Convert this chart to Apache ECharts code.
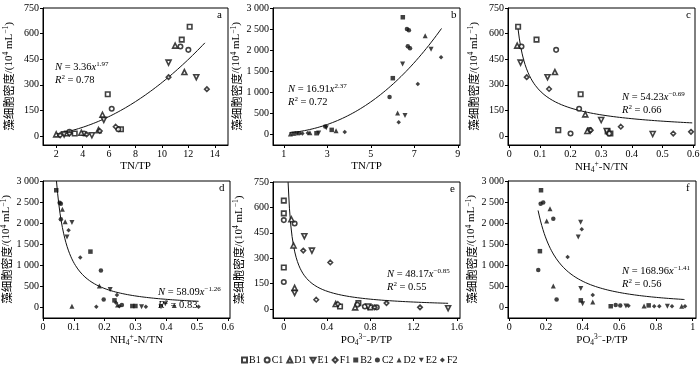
<!DOCTYPE html>
<html><head><meta charset="utf-8">
<script src="https://cdn.jsdelivr.net/npm/echarts@6/dist/echarts.min.js"></script>
<style>html,body{margin:0;padding:0;background:#fff}#c{width:700px;height:366px}</style>
</head><body><div id="c"></div>
<script>
// ---------- data (period 1: panels a, c, e; period 2: panels b, d, f) ----------
const legendNames = ['B1','C1','D1','E1','F1','B2','C2','D2','E2','F2'];
// panel a: TN/TP vs density (period 1)
const aB = [[12.1,640],[11.5,565],[5.9,245],[6.9,40],[3.4,15],[2.8,15]];
const aC = [[11.4,525],[12.0,505],[6.2,160],[6.7,40],[3.0,25],[4.1,15]];
const aD = [[11.0,530],[11.7,375],[5.5,125],[2.0,10],[3.9,20],[5.2,35]];
const aE = [[10.5,430],[12.6,345],[5.6,95],[4.7,5],[2.6,10]];
const aF = [[10.5,345],[13.4,275],[6.5,55],[2.3,5],[3.0,15],[4.3,10],[5.3,30]];
// panel b: TN/TP vs density (period 2)
const bB = [[6.47,2780],[6.01,1330],[1.45,10],[2.5,20],[3.2,100]];
const bC = [[6.66,2500],[6.75,2470],[6.7,2090],[6.8,2040],[5.86,880],[2.9,180],[1.7,20]];
const bD = [[7.5,2340],[6.23,500],[1.3,0],[2.2,30],[3.4,80]];
const bE = [[7.77,2020],[6.46,1670],[6.57,440],[1.6,10],[2.95,150],[2.6,25]];
const bF = [[8.23,1830],[7.16,1190],[6.28,280],[2.1,25],[3.8,50],[1.85,15]];
// panel c: NH4+-N/TN vs density (period 1)
const cB = [[0.029,640],[0.089,565],[0.233,245],[0.16,35],[0.321,28],[0.33,15]];
const cC = [[0.04,525],[0.153,505],[0.228,160],[0.262,35],[0.2,15],[0.326,15]];
const cD = [[0.026,530],[0.149,375],[0.248,127],[0.255,30]];
const cE = [[0.037,430],[0.125,345],[0.3,94],[0.468,12],[0.318,30]];
const cF = [[0.057,345],[0.13,276],[0.364,55],[0.535,15],[0.593,25],[0.266,35]];
// panel d: NH4+-N/TN vs density (period 2)
const dB = [[0.043,2780],[0.154,1320],[0.232,160],[0.29,25],[0.3,25]];
const dC = [[0.054,2480],[0.058,2460],[0.058,2090],[0.188,870],[0.197,180],[0.256,50]];
const dD = [[0.063,2330],[0.072,2030],[0.183,500],[0.094,20],[0.426,40],[0.242,50]];
const dE = [[0.094,2010],[0.078,1670],[0.218,420],[0.32,10],[0.383,10],[0.397,80]];
const dF = [[0.083,1830],[0.121,1180],[0.24,290],[0.173,10],[0.334,10],[0.505,10],[0.248,20],[0.237,100]];
// panel e: PO4(3-)-P/TP vs density (period 1)
const eB = [[0,640],[0,565],[0,245],[0.52,15],[0.69,35],[0.8,10]];
const eC = [[0,525],[0.1,505],[0,160],[0.68,25],[0.75,15],[0.86,10]];
const eD = [[0.07,530],[0.09,375],[0.1,125],[0.66,10],[0.48,30]];
const eE = [[0.19,430],[0.26,345],[0.1,95],[1.52,5],[0.78,15]];
const eF = [[0.18,345],[0.43,275],[0.3,55],[0.5,30],[0.95,35],[1.26,10],[0.84,10]];
// panel f: PO4(3-)-P/TP vs density (period 2)
const fB = [[0.173,2780],[0.167,1330],[0.39,160],[0.553,20],[0.76,40]];
const fC = [[0.171,2460],[0.185,2490],[0.24,2100],[0.158,880],[0.258,180],[0.58,50],[0.605,40]];
const fD = [[0.222,2340],[0.204,2050],[0.24,500],[0.455,120],[0.735,25],[0.94,20]];
const fE = [[0.389,2020],[0.376,1670],[0.39,440],[0.4,80],[0.636,25],[0.862,20]];
const fF = [[0.395,1850],[0.318,1190],[0.455,290],[0.65,30],[0.79,20],[0.818,20],[0.887,20],[0.958,20]];
// fitted power models N = k * x^p, and the x-range each curve spans
const fitA = [3.36, 1.97],   rangeA = [2.0, 13.25];
const fitB = [16.91, 2.37],  rangeB = [1.25, 8.25];
const fitC = [54.23, -0.69], rangeC = [0.028, 0.597];
const fitD = [58.09, -1.26], rangeD = [0.0437, 0.505];
const fitE = [48.17, -0.85], rangeE = [0.0396, 1.52];
const fitF = [168.96, -1.41],rangeF = [0.157, 0.955];
const r2 = ['0.78','0.72','0.66','0.83','0.55','0.56'];
// tick labels
const ticksXa = [2,4,6,8,10,12,14];
const ticksXb = [1,3,5,7,9];
const ticksXcd = [0,0.1,0.2,0.3,0.4,0.5,0.6];
const ticksXe = [0,0.4,0.8,1.2,1.6];
const ticksXf = [0,0.2,0.4,0.6,0.8,1.0];
const ticksY750 = [0,150,300,450,600,750];
const ticksY3000 = [0,500,1000,1500,2000,2500,3000];

// ---------- chart ----------
const SERIF = 'Liberation Serif';
const CJK = 'Noto Sans CJK SC';
const SYM = {B:'rect', C:'circle', D:'triangle', E:'path://M0,0L10,0L5,9Z', F:'diamond'};
const nameR = {
  t:{fontFamily:SERIF,fontSize:11,color:'#000',lineHeight:14},
  c:{fontFamily:CJK,fontSize:11.5,color:'#000',lineHeight:14},
  sup:{fontFamily:SERIF,fontSize:7.5,color:'#000',verticalAlign:'top',lineHeight:14,padding:[0,0,5,0]},
  sub:{fontFamily:SERIF,fontSize:7.5,color:'#000',verticalAlign:'bottom',lineHeight:14,padding:[4,0,0,0]}
};
const eqR = {
  t:{fontFamily:SERIF,fontSize:10.5,color:'#000',lineHeight:13},
  i:{fontFamily:SERIF,fontSize:10.5,fontStyle:'italic',color:'#000',lineHeight:13},
  sup:{fontFamily:SERIF,fontSize:7,color:'#000',verticalAlign:'top',lineHeight:13,padding:[0,0,4,0]}
};
const yName = '{c|藻细胞密度}{t|/(10}{sup|4}{t| mL}{sup|−1}{t|)}';
const panels = [
  {g:{left:43,top:8,width:185,height:137}, x:[1,15], xt:ticksXa, y:[-52,750], yt:ticksY750, xn:'{t|TN/TP}', p:'1', d:{B:aB,C:aC,D:aD,E:aE,F:aF}, fit:fitA, rg:rangeA, eq:[55,61], L:[217,10], letter:'a'},
  {g:{left:273,top:8,width:187,height:137}, x:[0.5,9.1], xt:ticksXb, y:[-260,3000], yt:ticksY3000, xn:'{t|TN/TP}', p:'2', d:{B:bB,C:bC,D:bD,E:bE,F:bF}, fit:fitB, rg:rangeB, eq:[288,83], L:[451,10], letter:'b'},
  {g:{left:508,top:8,width:187,height:137}, x:[-0.004,0.606], xt:ticksXcd, y:[-52,750], yt:ticksY750, xn:'{t|NH}{sub|4}{sup|+}{t|-N/TN}', p:'1', d:{B:cB,C:cC,D:cD,E:cE,F:cF}, fit:fitC, rg:rangeC, eq:[622,91], L:[686,10], letter:'c'},
  {g:{left:43,top:181,width:187,height:137}, x:[0,0.607], xt:ticksXcd, y:[-260,3000], yt:ticksY3000, xn:'{t|NH}{sub|4}{sup|+}{t|-N/TN}', p:'2', d:{B:dB,C:dC,D:dD,E:dE,F:dF}, fit:fitD, rg:rangeD, eq:[158,286], L:[219,183], letter:'d'},
  {g:{left:273,top:182,width:187,height:136}, x:[-0.1,1.63], xt:ticksXe, y:[-53,750], yt:ticksY750, xn:'{t|PO}{sub|4}{sup|3−}{t|-P/TP}', p:'1', d:{B:eB,C:eC,D:eD,E:eE,F:eF}, fit:fitE, rg:rangeE, eq:[387,268], L:[450,184], letter:'e'},
  {g:{left:508,top:181,width:188,height:137}, x:[-0.007,1.018], xt:ticksXf, y:[-260,3000], yt:ticksY3000, xn:'{t|PO}{sub|4}{sup|3−}{t|-P/TP}', p:'2', d:{B:fB,C:fC,D:fD,E:fE,F:fF}, fit:fitF, rg:rangeF, eq:[622,265], L:[686,183], letter:'f'}
];
const fmtY = v => v >= 1000 ? String(v).replace(/(\d)(\d{3})$/, '$1 $2') : String(v);
const fmtNum = v => String(v);
const grid=[], xAxis=[], yAxis=[], series=[], graphic=[];
panels.forEach((P, k) => {
  grid.push(Object.assign({show:true, borderColor:'#000', borderWidth:1, outerBoundsMode:'none', containLabel:false}, P.g));
  xAxis.push({type:'value', gridIndex:k, min:P.x[0], max:P.x[1],
    name:P.xn, nameLocation:'middle', nameGap:14,
    nameTextStyle:{rich:nameR},
    axisLine:{show:true,onZero:false,lineStyle:{color:'#000',width:1}},
    axisTick:{show:true,inside:false,length:3,lineStyle:{color:'#000'},customValues:P.xt},
    axisLabel:{color:'#000',fontFamily:SERIF,fontSize:10,margin:4,customValues:P.xt,formatter:fmtNum},
    splitLine:{show:false}});
  yAxis.push({type:'value', gridIndex:k, min:P.y[0], max:P.y[1],
    name:yName, nameLocation:'middle', nameGap:27, nameRotate:90,
    nameTextStyle:{rich:nameR},
    axisLine:{show:true,onZero:false,lineStyle:{color:'#000',width:1}},
    axisTick:{show:true,inside:false,length:3,lineStyle:{color:'#000'},customValues:P.yt},
    axisLabel:{color:'#000',fontFamily:SERIF,fontSize:10,margin:4,customValues:P.yt,formatter:fmtY},
    splitLine:{show:false}});
  ['B','C','D','E','F'].forEach(s => {
    const hollow = P.p === '1';
    series.push({type:'scatter', name:s+P.p, xAxisIndex:k, yAxisIndex:k, data:P.d[s],
      symbol:SYM[s], symbolSize: s==='D'||s==='E' ? 5 : 4.5, z:3,
      itemStyle: hollow ? {color:'#fff', borderColor:'#111', borderWidth:1.6} : {color:'#111', borderWidth:0},
      emphasis:{disabled:true}});
  });
  // fitted curve sampled along the equation printed on the panel
  const pts=[]; const n=120;
  for (let i=0;i<=n;i++){ const xv=P.rg[0]+(P.rg[1]-P.rg[0])*i/n; pts.push([xv, P.fit[0]*Math.pow(xv,P.fit[1])]); }
  series.push({type:'line', xAxisIndex:k, yAxisIndex:k, data:pts, showSymbol:false, symbol:'none',
    lineStyle:{color:'#111',width:1}, clip:true, silent:true, z:2});
  const expo = (P.fit[1] < 0 ? '−' : '') + Math.abs(P.fit[1]).toFixed(2);
  graphic.push({type:'text', left:P.eq[0], top:P.eq[1], z:10, style:{
    text:'{i|N}{t| = '+P.fit[0].toFixed(2)+'}{i|x}{sup|'+expo+'}\n{i|R}{sup|2}{t| = '+r2[k]+'}', rich:eqR}});
  graphic.push({type:'text', left:P.L[0], top:P.L[1], z:10, style:{text:P.letter, font:'11px "'+SERIF+'"', fill:'#000'}});
});
const chart = echarts.init(document.getElementById('c'), null, {renderer:'canvas'});
chart.setOption({
  animation:false, backgroundColor:'#fff',
  grid, xAxis, yAxis, series, graphic,
  legend:{data:legendNames, left:236, top:350, itemWidth:5, itemHeight:5, itemGap:3,
    textStyle:{fontFamily:SERIF,fontSize:10,color:'#000',padding:[0,0,0,-3]}, selectedMode:false}
});
</script></body></html>
